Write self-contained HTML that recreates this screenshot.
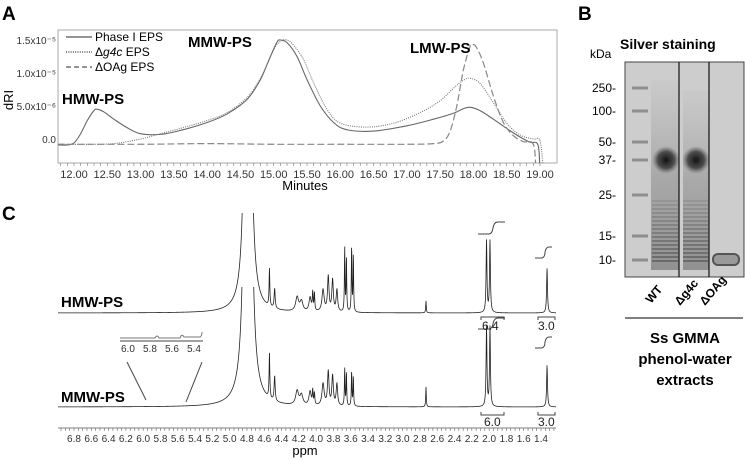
<!DOCTYPE html>
<html><head><meta charset="utf-8"><style>
body{margin:0;background:#fff;}
svg{display:block;font-family:"Liberation Sans",Arial,sans-serif;}
</style></head><body>
<svg id="fig" width="745" height="460" viewBox="0 0 745 460">
<defs>
 <clipPath id="clipA"><rect x="58" y="30" width="499" height="133"/></clipPath>
 <clipPath id="clipH"><rect x="58" y="213" width="500" height="110"/></clipPath>
 <clipPath id="clipM"><rect x="58" y="287" width="500" height="130"/></clipPath>
 <radialGradient id="blob" cx="50%" cy="50%" r="50%"><stop offset="0" stop-color="#111"/><stop offset="0.6" stop-color="#333" stop-opacity="0.8"/><stop offset="1" stop-color="#666" stop-opacity="0"/></radialGradient>
 <linearGradient id="smear" x1="0" y1="0" x2="0" y2="1"><stop offset="0" stop-color="#888" stop-opacity="0.05"/><stop offset="0.5" stop-color="#666" stop-opacity="0.35"/><stop offset="1" stop-color="#555" stop-opacity="0.5"/></linearGradient>
</defs>
<!-- Panel A -->
<text x="2" y="20" font-size="19" font-weight="bold">A</text>
<rect x="58" y="30" width="499" height="133" fill="none" stroke="#aaa" stroke-width="1"/>
<g id="axA"></g>
<g id="curvesA" clip-path="url(#clipA)"></g>
<text transform="translate(13,100) rotate(-90)" font-size="13" text-anchor="middle">dRI</text>
<text x="305" y="190" font-size="13" text-anchor="middle">Minutes</text>
<g font-size="12">
 <line x1="66" y1="37" x2="92" y2="37" stroke="#555" stroke-width="1.2"/><text x="95" y="41">Phase I EPS</text>
 <line x1="66" y1="52" x2="92" y2="52" stroke="#555" stroke-width="1.4" stroke-dasharray="1,1.3"/><text x="95" y="56">Δ<tspan font-style="italic">g4c</tspan> EPS</text>
 <line x1="66" y1="67" x2="92" y2="67" stroke="#555" stroke-width="1.2" stroke-dasharray="5,3"/><text x="95" y="71">ΔOAg EPS</text>
</g>
<text x="188" y="47" font-size="15" font-weight="bold">MMW-PS</text>
<text x="410" y="53" font-size="15" font-weight="bold">LMW-PS</text>
<text x="62" y="104" font-size="15" font-weight="bold">HMW-PS</text>

<!-- Panel B -->
<text x="578" y="20" font-size="19" font-weight="bold">B</text>
<text x="620" y="49" font-size="14" font-weight="bold">Silver staining</text>
<text x="590" y="58" font-size="12">kDa</text>
<g id="gel">
 <rect x="625" y="62" width="119" height="215" fill="#cdcdcd" stroke="#444" stroke-width="1"/>
 <rect x="651" y="80" width="28" height="190" fill="url(#smear)"/>
 <rect x="683" y="90" width="26" height="180" fill="url(#smear)"/>
 <ellipse cx="666" cy="160" rx="14" ry="14" fill="url(#blob)"/>
 <ellipse cx="696" cy="160" rx="14" ry="14" fill="url(#blob)"/>
 <rect x="713" y="254" width="26" height="11" rx="5" fill="#999" stroke="#555" stroke-width="2"/>
 <line x1="679" y1="62" x2="679" y2="277" stroke="#111" stroke-width="1.2"/>
 <line x1="709" y1="62" x2="709" y2="277" stroke="#111" stroke-width="1.2"/>
</g>
<g id="gelLabels" font-size="12"></g>
<g font-size="12" font-weight="bold">
 <text transform="translate(651,304) rotate(-50)">WT</text>
 <text transform="translate(680,306) rotate(-50)">Δg4c</text>
 <text transform="translate(705,306) rotate(-50)">ΔOAg</text>
</g>
<line x1="625" y1="318" x2="743" y2="318" stroke="#000" stroke-width="1"/>
<g font-size="15" font-weight="bold" text-anchor="middle">
 <text x="685" y="343">Ss GMMA</text><text x="685" y="364">phenol-water</text><text x="685" y="385">extracts</text>
</g>

<!-- Panel C -->
<text x="2" y="220" font-size="19" font-weight="bold">C</text>
<g id="nmr"></g>
<g id="axC"></g>
<text x="305" y="455" font-size="13" text-anchor="middle">ppm</text>
<text x="61" y="307" font-size="15" font-weight="bold">HMW-PS</text>
<text x="61" y="402" font-size="15" font-weight="bold">MMW-PS</text>
<g stroke="#444" fill="none">
 <path d="M120,338 L155,338 Q157,334 159,338 L180,338 Q182,333 184,337 L200,337 Q202,336 202,332" stroke="#777"/>
 <line x1="120" y1="341" x2="203" y2="341"/>
 <line x1="127" y1="362" x2="146" y2="400"/>
 <line x1="202" y1="362" x2="186" y2="402"/>
</g>
<g font-size="10" fill="#333"><text x="121" y="352">6.0</text><text x="143" y="352">5.8</text><text x="165" y="352">5.6</text><text x="187" y="352">5.4</text></g>
<g stroke="#444" fill="none" stroke-width="1">
 <path d="M478,234 L489,234 Q492,234 493,228 Q494,222 498,222 L505,222"/>
 <path d="M535,258 L542,258 Q545,257 545,252 Q546,247 549,247 L552,247"/>
 <path d="M478,329 L489,329 Q492,329 493,324 Q494,318 498,318 L505,318"/>
 <path d="M535,348 L542,348 Q545,347 545,342 Q546,337 549,337 L552,337"/>
 <path d="M481,320 L481,317 L504,317 L504,320"/><path d="M538,320 L538,317 L555,317 L555,320"/>
 <path d="M481,412 L481,415 L504,415 L504,412"/><path d="M538,412 L538,415 L555,415 L555,412"/>
</g>
<g font-size="12" fill="#222">
 <text x="482" y="330">6.4</text><text x="538" y="330">3.0</text>
 <text x="484" y="426">6.0</text><text x="538" y="426">3.0</text>
</g>
</svg>
<script>
const NS="http://www.w3.org/2000/svg";
function mk(tag,attrs,parent){const e=document.createElementNS(NS,tag);for(const k in attrs)e.setAttribute(k,attrs[k]);parent.appendChild(e);return e;}

// ---- Panel A data (minutes, dRI x1e-6) ----
const xTicksA=[12,12.5,13,13.5,14,14.5,15,15.5,16,16.5,17,17.5,18,18.5,19];
const yTicksA=[0,5,10,15];
const yTickLabelsA=["0.0","5.0x10⁻⁶","1.0x10⁻⁵","1.5x10⁻⁵"];
const phaseT=[11.75,11.9,12.0,12.1,12.2,12.3,12.35,12.45,12.6,12.8,13.0,13.3,13.6,14.0,14.3,14.6,14.8,14.95,15.05,15.1,15.2,15.35,15.5,15.7,15.9,16.1,16.5,17.0,17.4,17.7,17.85,17.95,18.1,18.3,18.5,18.7,18.85,18.97,19.0,19.03];
const phaseV=[-0.9,-0.9,-0.6,0.8,2.8,4.3,4.5,4.1,3.0,1.7,0.8,0.7,1.3,2.5,3.8,6.0,9.0,12.5,14.7,15.0,14.6,12.5,9.0,5.0,2.5,1.4,1.2,2.0,3.0,3.9,4.6,4.8,4.3,3.0,1.6,0.3,-0.5,-0.9,-5,-12];
const g4cT=[11.75,12.2,12.6,13.0,13.3,13.6,14.0,14.3,14.6,14.8,15.0,15.1,15.2,15.3,15.45,15.6,15.8,16.0,16.4,16.8,17.2,17.5,17.7,17.85,17.95,18.1,18.3,18.5,18.7,18.9,19.0,19.05,19.08];
const g4cV=[-0.8,-0.8,-0.7,0.0,0.8,1.6,2.8,4.0,6.3,9.2,13.5,14.8,15.0,14.2,12.0,8.5,4.5,2.4,1.8,2.4,4.0,5.8,7.7,8.9,9.2,8.4,5.5,2.4,0.6,0.0,-0.3,-5,-12];
const oagT=[11.75,13.0,14.0,15.0,16.0,17.0,17.4,17.55,17.65,17.75,17.85,17.95,18.0,18.05,18.15,18.3,18.45,18.6,18.75,18.9,18.94,18.97];
const oagV=[-0.8,-0.8,-0.7,-0.8,-0.8,-0.8,-0.7,-0.3,1.2,5.0,10.5,14.0,14.3,13.8,11.5,6.5,2.5,0.5,-0.4,-0.8,-5,-12];

const xA=m=>74+(m-12)*(540-74)/7;
const yA=v=>139-v*(139-40)/15;
const axA=document.getElementById('axA');
for(let m=11.8;m<=19.05;m+=0.1){const t=mk('line',{x1:xA(m),x2:xA(m),y1:163,y2:166,stroke:'#777','stroke-width':0.6},axA);

}
xTicksA.forEach(m=>{const t=mk('text',{x:xA(m),y:178,'font-size':11,'text-anchor':'middle',fill:'#333'},axA);t.textContent=m.toFixed(2);

});
yTicksA.forEach((v,i)=>{const t=mk('text',{x:56,y:yA(v)+4,'font-size':10,'text-anchor':'end',fill:'#333'},axA);t.textContent=yTickLabelsA[i];

});
const cA=document.getElementById('curvesA');
function smoothCR(T,V){const P=T.map((t,i)=>[xA(t),yA(V[i])]);let d='M'+P[0];for(let i=0;i<P.length-1;i++){const p0=P[Math.max(0,i-1)],p1=P[i],p2=P[i+1],p3=P[Math.min(P.length-1,i+2)];const c1=[p1[0]+(p2[0]-p0[0])/6,p1[1]+(p2[1]-p0[1])/6],c2=[p2[0]-(p3[0]-p1[0])/6,p2[1]-(p3[1]-p1[1])/6];d+=' C'+c1+' '+c2+' '+p2;}return d;}
let p=mk('path',{d:smoothCR(phaseT,phaseV),fill:'none',stroke:'#666','stroke-width':1.1},cA);


p=mk('path',{d:smoothCR(g4cT,g4cV),fill:'none',stroke:'#777','stroke-width':1.1,'stroke-dasharray':'1,1.2'},cA);


p=mk('path',{d:smoothCR(oagT,oagV),fill:'none',stroke:'#888','stroke-width':1.2,'stroke-dasharray':'7,3'},cA);



// ---- Panel B data ----
const markerKda=["250","100","50","37","25","15","10"];
const markerY=[88,111,142,160,195,236,260];
const gl=document.getElementById('gelLabels');
const gel=document.getElementById('gel');
markerKda.forEach((k,i)=>{const t=mk('text',{x:616,y:markerY[i]+4,'text-anchor':'end'},gl);t.textContent=k+'-';


const b=mk('rect',{x:632,y:markerY[i]-1.5,width:16,height:3,fill:'#666',opacity:0.6},gel);

});
for(let i=0;i<16;i++){const y=200+i*4;[[652,26],[683,25]].forEach(([x,w])=>{const r=mk('rect',{x:x,y:y,width:w,height:2,fill:'#333',opacity:0.12+i*0.02},gel);

});}
gel.querySelectorAll('line').forEach(l=>gel.appendChild(l));

// ---- Panel C NMR ----
const ppmTicks=[6.8,6.6,6.4,6.2,6.0,5.8,5.6,5.4,5.2,5.0,4.8,4.6,4.4,4.2,4.0,3.8,3.6,3.4,3.2,3.0,2.8,2.6,2.4,2.2,2.0,1.8,1.6,1.4];
const peakPpm=[4.79,4.54,4.48,4.22,4.17,4.07,4.04,4.02,3.92,3.86,3.81,3.76,3.67,3.65,3.59,3.57,2.73,2.03,1.99,1.33];
const hmwHeight=[2000,38,20,14,10,14,18,18,22,35,32,22,65,55,68,58,12,72,72,45];
const mmwHeight=[2600,45,25,14,10,14,14,12,22,34,30,22,38,34,36,30,20,80,80,42];
const peakWidth=[0.015,0.005,0.007,0.02,0.02,0.015,0.005,0.005,0.015,0.01,0.01,0.01,0.004,0.004,0.004,0.004,0.004,0.006,0.006,0.006];
const xC=ppm=>74+(6.8-ppm)*(541-74)/5.4;
const axC=document.getElementById('axC');
mk('line',{x1:58,x2:556,y1:428,y2:428,stroke:'#555','stroke-width':0.8},axC);
for(let v=6.95;v>=1.25;v-=0.05){const t=mk('line',{x1:xC(v),x2:xC(v),y1:428,y2:431,stroke:'#666','stroke-width':0.6},axC);

}
ppmTicks.forEach(v=>{const t=mk('text',{x:xC(v),y:442,'font-size':10,'text-anchor':'middle',fill:'#333'},axC);t.textContent=v.toFixed(1);

});
const nmr=document.getElementById('nmr');
function spec(H,base,clip,name){let d='';for(let x=58;x<=556;x+=0.25){const ppm=6.8-(x-74)*5.4/(541-74);let s=0;for(let i=0;i<peakPpm.length;i++){const w=peakWidth[i],dx=ppm-peakPpm[i];s+=H[i]*w*w/(dx*dx+w*w);}d+=(d?' L':'M')+x.toFixed(2)+','+(base-s).toFixed(2);}
const p=mk('path',{d:d,fill:'none',stroke:'#222','stroke-width':0.8,'clip-path':'url(#'+clip+')'},nmr);

}
spec(hmwHeight,313,'clipH','hmw-spectrum');
spec(mmwHeight,407,'clipM','mmw-spectrum');
</script>
</body></html>
